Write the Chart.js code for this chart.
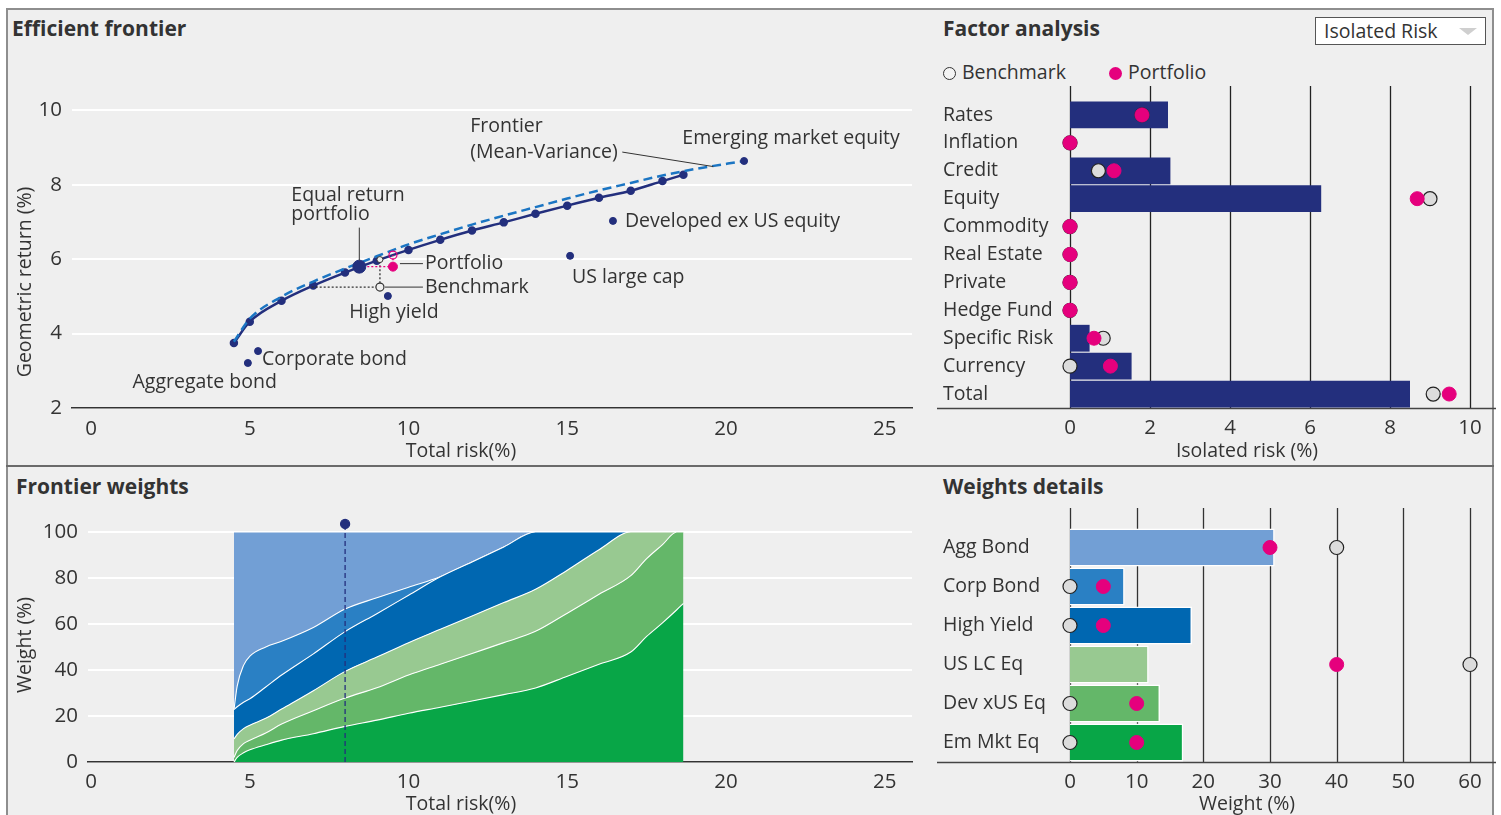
<!DOCTYPE html>
<html>
<head>
<meta charset="utf-8">
<title>Efficient frontier dashboard</title>
<script src="https://cdn.jsdelivr.net/npm/chart.js@4.4.1/dist/chart.umd.min.js"></script>
<style>
  html, body { margin: 0; padding: 0; background: #fff; }
  body { position: relative; width: 1501px; height: 815px; overflow: hidden; font-family: "Open Sans", sans-serif; color: #333; }
  #frame { position: absolute; left: 6px; top: 8px; width: 1488px; height: 820px; box-sizing: border-box; background: #efefef; border: 2px solid #8e8e8e; border-bottom: 0; }
  #divider { position: absolute; left: 6px; top: 465px; width: 1488px; height: 2px; background: #6a6a6a; }
  canvas { position: absolute; }
  .ttl { position: absolute; font-weight: 700; font-size: 21px; line-height: 24px; white-space: nowrap; }
  .axt { position: absolute; font-size: 19.5px; line-height: 24px; white-space: nowrap; transform: translate(-50%, -50%); }
  .axt.rot { transform: translate(-50%, -50%) rotate(-90deg); }
  #dropdown { position: absolute; left: 1315px; top: 17px; width: 171px; height: 28px; box-sizing: border-box; border: 1px solid #555; background: #fff; font-size: 19.5px; line-height: 26px; padding-left: 8px; }
  #dropdown:after { content: ""; position: absolute; right: 8px; top: 10px; border-left: 9px solid transparent; border-right: 9px solid transparent; border-top: 7px solid #cfcfcf; }
  .lg { position: absolute; top: 60px; font-size: 19.5px; line-height: 24px; white-space: nowrap; }
  .lg i { display: inline-block; width: 13px; height: 13px; border-radius: 50%; box-sizing: border-box; vertical-align: -1px; margin-right: 6px; }
</style>
</head>
<body>
<div id="frame"></div>
<div id="divider"></div>

<div class="ttl" style="left:12px; top:16px;">Efficient frontier</div>
<div class="ttl" style="left:943px; top:16px;">Factor analysis</div>
<div class="ttl" style="left:16px; top:474px;">Frontier weights</div>
<div class="ttl" style="left:943px; top:474px;">Weights details</div>

<div id="dropdown">Isolated Risk</div>
<div class="lg" style="left:943px;"><i style="border:1.5px solid #333; background:#f4f4f4;"></i>Benchmark</div>
<div class="lg" style="left:1109px;"><i style="background:#e5007d;"></i>Portfolio</div>

<canvas id="frontier" width="930" height="466" style="left:0; top:0;"></canvas>
<canvas id="factors" width="571" height="466" style="left:930px; top:0;"></canvas>
<canvas id="weights" width="930" height="349" style="left:0; top:466px;"></canvas>
<canvas id="details" width="571" height="349" style="left:930px; top:466px;"></canvas>

<div class="axt rot" style="left:24px; top:282px;">Geometric return (%)</div>
<div class="axt" style="left:461px; top:450px;">Total risk(%)</div>
<div class="axt" style="left:1247px; top:450px;">Isolated risk (%)</div>
<div class="axt rot" style="left:24px; top:645px;">Weight (%)</div>
<div class="axt" style="left:461px; top:803px;">Total risk(%)</div>
<div class="axt" style="left:1247px; top:803px;">Weight (%)</div>

<script>
// ---------- data ----------
const riskTicks = [0, 5, 10, 15, 20, 25];
const returnTicks = [2, 4, 6, 8, 10];

// efficient frontier (solid)
const frontierRisk   = [4.5, 5.0, 6.0, 7.0, 8.0, 9.0, 10.0, 11.0, 12.0, 13.0, 14.0, 15.0, 16.0, 17.0, 18.0, 18.66];
const frontierReturn = [3.75, 4.32, 4.88, 5.29, 5.64, 5.96, 6.25, 6.52, 6.77, 6.99, 7.22, 7.44, 7.65, 7.84, 8.10, 8.27];

// mean-variance frontier (dashed)
const mvRisk   = [4.5, 5.0, 6.0, 7.0, 8.0, 9.0, 10.0, 11.0, 12.0, 13.0, 14.0, 15.0, 16.0, 17.0, 18.0, 19.0, 20.57];
const mvReturn = [3.78, 4.40, 4.99, 5.40, 5.75, 6.08, 6.40, 6.67, 6.93, 7.17, 7.40, 7.63, 7.85, 8.05, 8.25, 8.42, 8.64];
const mvLabelAnchor = [19.6, 8.49];

// single assets
const assetNames  = ['Aggregate bond', 'Corporate bond', 'High yield', 'US large cap', 'Developed ex US equity', 'Emerging market equity'];
const assetRisk   = [4.94, 5.26, 9.35, 15.09, 16.44, 20.57];
const assetReturn = [3.21, 3.53, 5.01, 6.09, 7.03, 8.64];

const equalReturnPortfolio = [8.45, 5.80];
const portfolioPoint       = [9.51, 5.80];
const portfolioOnFrontier  = [9.51, 6.11];
const benchmarkPoint       = [9.10, 5.25];
const benchmarkOnFrontier  = [9.10, 5.99];
const benchmarkEqualReturnRisk = 6.95;

// factor analysis
const factorNames = ['Rates', 'Inflation', 'Credit', 'Equity', 'Commodity', 'Real Estate', 'Private', 'Hedge Fund', 'Specific Risk', 'Currency', 'Total'];
const factorIsolatedRisk = [2.45, 0, 2.51, 6.28, 0, 0, 0, 0, 0.49, 1.54, 8.5];
const factorPortfolio    = [1.8, 0, 1.1, 8.68, 0, 0, 0, 0, 0.6, 1.01, 9.48];
const factorBenchmark    = [1.8, 0, 0.71, 9.0, 0, 0, 0, 0, 0.83, 0, 9.08];
const isolatedTicks = [0, 2, 4, 6, 8, 10];

// frontier weights (stacked, bottom to top)
const weightRisk = [4.5, 4.6, 4.8, 5, 5.5, 6, 7, 8, 9, 10, 11, 12, 13, 14, 15, 16, 17, 17.5, 18, 18.45, 18.66];
const wEmMkt     = [0, 2, 4, 5.3, 7.5, 9.5, 12.3, 15.5, 18.2, 21.2, 23.8, 26.5, 29.3, 32.2, 37.3, 42.5, 47.8, 54.6, 60.5, 66.2, 69];
const wDevXus    = [2, 3, 4, 4.2, 5.1, 7, 10, 12.3, 14.1, 16.6, 18.7, 20.7, 22.6, 24.6, 27.4, 30.4, 33.2, 33.8, 34, 33.8, 31];
const wUsLc      = [8, 7, 6.5, 6.5, 6.4, 6.5, 8.7, 11.6, 13.3, 14.1, 15.2, 16.3, 17.4, 18.3, 18.7, 19.4, 19, 11.6, 5.5, 0, 0];
const wHighYield = [12.8, 12, 11.5, 11.5, 13.6, 14.8, 16, 17.3, 18.9, 20.6, 22.8, 23.5, 24.2, 24.9, 16.6, 7.7, 0, 0, 0, 0, 0];
const wCorpBond  = [0, 9, 16, 18.5, 17.4, 14.7, 11.5, 9.8, 6.9, 3.5, 0, 0, 0, 0, 0, 0, 0, 0, 0, 0, 0];
const wAggBond   = [77.2, 67, 58, 54, 50, 47.5, 41.5, 33.5, 28.6, 24, 19.5, 13, 6.5, 0, 0, 0, 0, 0, 0, 0, 0];
const weightTicks = [0, 20, 40, 60, 80, 100];
const selectedRisk = 8.0;
const selectedMarker = 103.5;

// weights details
const assetShort       = ['Agg Bond', 'Corp Bond', 'High Yield', 'US LC Eq', 'Dev xUS Eq', 'Em Mkt Eq'];
const selectedWeights  = [30.7, 8.2, 18.3, 11.8, 13.5, 17.0];
const portfolioWeights = [30, 5, 5, 40, 10, 10];
const benchmarkWeights = [40, 0, 0, 60, 0, 0];
const detailTicks = [0, 10, 20, 30, 40, 50, 60];

// ---------- styles ----------
const TXT = '#333';
const NAVY = '#232f7d';
const MVBLUE = '#1b75c3';
const PINK = '#e5007d';
const BENCH = '#dcdcdc';
const assetColors = ['#729fd5', '#2a80c4', '#0067b1', '#98c991', '#64b769', '#08a647'];
const NUM_FONT = { size: 20.5 };

Chart.defaults.font.family = '"Open Sans", sans-serif';
Chart.defaults.font.size = 19.5;
Chart.defaults.color = TXT;

const pts = (xs, ys) => xs.map((x, i) => ({ x: x, y: ys[i] }));
const fixedTicks = values => scale => { scale.ticks = values.map(v => ({ value: v })); };
const noPlugins = { legend: { display: false }, tooltip: { enabled: false } };

// vertical grid lines that run above the category area + full-width base line
const vGrid = {
  id: 'vgrid',
  beforeDatasetsDraw(chart, args, opts) {
    const { ctx, chartArea } = chart;
    const xs = chart.scales.x;
    ctx.save();
    ctx.strokeStyle = opts.color;
    ctx.lineWidth = opts.width;
    xs.ticks.forEach(t => {
      const px = Math.round(xs.getPixelForValue(t.value)) + 0.5;
      ctx.beginPath(); ctx.moveTo(px, opts.top); ctx.lineTo(px, chartArea.bottom); ctx.stroke();
    });
    ctx.strokeStyle = '#444';
    ctx.lineWidth = 1.5;
    ctx.beginPath(); ctx.moveTo(opts.from, chartArea.bottom + 0.5); ctx.lineTo(opts.to, chartArea.bottom + 0.5); ctx.stroke();
    ctx.restore();
  }
};

// labels and leader lines of the frontier panel
const assetLabelOffsets = [[29, 19, 'right'], [4, 8, 'left'], [6, 16, 'center'], [2, 22, 'left'], [12, 1, 'left'], [47, -23, 'center']];
const frontierNotes = {
  id: 'frontierNotes',
  afterDatasetsDraw(chart) {
    const { ctx } = chart;
    const sx = chart.scales.x, sy = chart.scales.y;
    const at = p => [sx.getPixelForValue(p[0]), sy.getPixelForValue(p[1])];
    const line = (x1, y1, x2, y2) => { ctx.beginPath(); ctx.moveTo(x1, y1); ctx.lineTo(x2, y2); ctx.stroke(); };
    const text = (s, x, y, align) => { ctx.textAlign = align || 'left'; ctx.fillText(s, x, y); };
    ctx.save();
    ctx.font = '19.5px "Open Sans", sans-serif';
    ctx.fillStyle = TXT;
    ctx.strokeStyle = TXT;
    ctx.lineWidth = 1;
    ctx.textBaseline = 'middle';

    assetNames.forEach((name, i) => {
      const [px, py] = at([assetRisk[i], assetReturn[i]]);
      const o = assetLabelOffsets[i];
      text(name, px + o[0], py + o[1], o[2]);
    });

    let [px, py] = at(equalReturnPortfolio);
    line(px, py - 39, px, py - 6);
    text('Equal return', px - 68, py - 71);
    text('portfolio', px - 68, py - 52);

    [px, py] = at(portfolioPoint);
    line(px + 7, py - 3, px + 30, py - 3);
    text('Portfolio', px + 32, py - 3.5);

    [px, py] = at(benchmarkPoint);
    line(px + 5, py, px + 43, py);
    text('Benchmark', px + 45, py);

    [px, py] = at(mvLabelAnchor);
    line(px - 91, py - 14.5, px, py);
    text('Frontier', px - 243, py - 40);
    text('(Mean-Variance)', px - 243, py - 14.5);
    ctx.restore();
  }
};

// ---------- efficient frontier ----------
new Chart(document.getElementById('frontier'), {
  type: 'line',
  data: {
    datasets: [
      { data: pts([portfolioPoint[0]], [portfolioPoint[1]]), pointRadius: 4.5, pointBackgroundColor: PINK, pointBorderColor: PINK },
      { data: pts([portfolioOnFrontier[0]], [portfolioOnFrontier[1]]), pointRadius: 4, pointBackgroundColor: 'rgba(0,0,0,0)', pointBorderColor: PINK, pointBorderWidth: 1.2 },
      { data: pts([benchmarkPoint[0]], [benchmarkPoint[1]]), pointRadius: 4, pointBackgroundColor: '#efefef', pointBorderColor: '#333', pointBorderWidth: 1.2 },
      { data: pts([benchmarkOnFrontier[0]], [benchmarkOnFrontier[1]]), pointRadius: 3, pointBackgroundColor: '#efefef', pointBorderColor: '#333', pointBorderWidth: 1 },
      { data: pts([equalReturnPortfolio[0]], [equalReturnPortfolio[1]]), pointRadius: 6.5, pointBackgroundColor: NAVY, pointBorderColor: NAVY },
      { data: pts([equalReturnPortfolio[0], portfolioPoint[0], portfolioOnFrontier[0]], [portfolioPoint[1], portfolioPoint[1], portfolioOnFrontier[1]]),
        borderColor: PINK, borderWidth: 1.3, borderDash: [2, 2], pointRadius: 0 },
      { data: pts([benchmarkEqualReturnRisk, benchmarkPoint[0], benchmarkOnFrontier[0]], [benchmarkPoint[1], benchmarkPoint[1], benchmarkOnFrontier[1]]),
        borderColor: '#333', borderWidth: 1.3, borderDash: [2, 2], pointRadius: 0 },
      { data: pts(assetRisk, assetReturn), showLine: false, pointRadius: 3.5, pointBackgroundColor: NAVY, pointBorderColor: NAVY },
      { data: pts(mvRisk, mvReturn), borderColor: MVBLUE, borderWidth: 2.5, borderDash: [9, 5], pointRadius: 0, cubicInterpolationMode: 'monotone' },
      { data: pts(frontierRisk, frontierReturn), borderColor: NAVY, borderWidth: 2.5, pointRadius: 3, pointBackgroundColor: NAVY, pointBorderColor: NAVY, cubicInterpolationMode: 'monotone' }
    ]
  },
  options: {
    responsive: false,
    animation: false,
    layout: { padding: { left: 0, top: 54.6, right: 18, bottom: 0 } },
    plugins: noPlugins,
    scales: {
      x: {
        type: 'linear', min: -0.6, max: 25.86,
        afterBuildTicks: fixedTicks(riskTicks),
        afterFit: s => { s.height = 58; },
        grid: { display: false },
        border: { color: '#333', width: 1.5 },
        ticks: { padding: 1, color: TXT, font: NUM_FONT }
      },
      y: {
        type: 'linear', min: 2, max: 11.5,
        afterBuildTicks: fixedTicks(returnTicks),
        afterFit: s => { s.width = 72; },
        grid: { color: '#fff', lineWidth: 2, drawTicks: false },
        border: { display: false },
        ticks: { padding: 10, color: TXT, font: NUM_FONT }
      }
    }
  },
  plugins: [frontierNotes]
});

// ---------- factor analysis ----------
new Chart(document.getElementById('factors'), {
  type: 'bar',
  data: {
    labels: factorNames,
    datasets: [
      { type: 'line', indexAxis: 'y', data: factorPortfolio, showLine: false, clip: false, pointRadius: 7, pointBackgroundColor: PINK, pointBorderColor: PINK, pointBorderWidth: 1, order: 0 },
      { type: 'line', indexAxis: 'y', data: factorBenchmark, showLine: false, clip: false, pointRadius: 7, pointBackgroundColor: BENCH, pointBorderColor: '#222', pointBorderWidth: 1.2, order: 1 },
      { data: factorIsolatedRisk, backgroundColor: NAVY, barPercentage: 1, categoryPercentage: 0.96, order: 2 }
    ]
  },
  options: {
    indexAxis: 'y',
    responsive: false,
    animation: false,
    layout: { padding: { left: 13, top: 101, right: 11, bottom: 0 } },
    plugins: Object.assign({ vgrid: { top: 86, from: 7, to: 566, color: '#222', width: 1.3 } }, noPlugins),
    scales: {
      x: {
        type: 'linear', min: 0, max: 10.5,
        afterBuildTicks: fixedTicks(isolatedTicks),
        afterFit: s => { s.height = 58; },
        grid: { display: false },
        border: { display: false },
        ticks: { padding: 0, color: TXT, font: NUM_FONT }
      },
      y: {
        afterFit: s => { s.width = 127; },
        grid: { display: false },
        border: { display: false },
        ticks: { crossAlign: 'far', padding: 0, color: TXT, autoSkip: false }
      }
    }
  },
  plugins: [vGrid]
});

// ---------- frontier weights ----------
const stackSeries = [wEmMkt, wDevXus, wUsLc, wHighYield, wCorpBond, wAggBond];
const stackColors = [assetColors[5], assetColors[4], assetColors[3], assetColors[2], assetColors[1], assetColors[0]];
const weightSets = stackSeries.map((w, i) => ({
  data: pts(weightRisk, w),
  backgroundColor: stackColors[i],
  borderColor: '#fff',
  borderWidth: 1.1,
  fill: i === 0 ? 'origin' : '-1',
  pointRadius: 0,
  cubicInterpolationMode: 'monotone',
  order: 5
}));
weightSets.push({
  data: pts([selectedRisk, selectedRisk], [0, selectedMarker]),
  yAxisID: 'ySel',
  borderColor: NAVY, borderWidth: 1.3, borderDash: [5, 3],
  pointRadius: [0, 4.5], pointBackgroundColor: NAVY, pointBorderColor: NAVY,
  clip: false, order: 0
});

new Chart(document.getElementById('weights'), {
  type: 'line',
  data: { datasets: weightSets },
  options: {
    responsive: false,
    animation: false,
    layout: { padding: { left: 0, top: 38.4, right: 18, bottom: 0 } },
    plugins: noPlugins,
    scales: {
      x: {
        type: 'linear', min: -0.1, max: 25.86,
        afterBuildTicks: fixedTicks(riskTicks),
        afterFit: s => { s.height = 53; },
        grid: { display: false },
        border: { color: '#333', width: 1.5 },
        ticks: { padding: 0, color: TXT, font: NUM_FONT }
      },
      y: {
        type: 'linear', min: 0, max: 112, stacked: true,
        afterBuildTicks: fixedTicks(weightTicks),
        afterFit: s => { s.width = 88; },
        grid: { color: '#fff', lineWidth: 2, drawTicks: false },
        border: { display: false },
        ticks: { padding: 10, color: TXT, font: NUM_FONT }
      },
      ySel: { type: 'linear', min: 0, max: 112, display: false }
    }
  }
});

// ---------- weights details ----------
new Chart(document.getElementById('details'), {
  type: 'bar',
  data: {
    labels: assetShort,
    datasets: [
      { type: 'line', indexAxis: 'y', data: portfolioWeights, showLine: false, clip: false, pointRadius: 7, pointBackgroundColor: PINK, pointBorderColor: PINK, pointBorderWidth: 1, order: 0 },
      { type: 'line', indexAxis: 'y', data: benchmarkWeights, showLine: false, clip: false, pointRadius: 7, pointBackgroundColor: BENCH, pointBorderColor: '#222', pointBorderWidth: 1.2, order: 1 },
      { data: selectedWeights, backgroundColor: assetColors, borderColor: '#fff', borderWidth: 1.5, barPercentage: 1, categoryPercentage: 0.98, order: 2 }
    ]
  },
  options: {
    indexAxis: 'y',
    responsive: false,
    animation: false,
    layout: { padding: { left: 13, top: 62, right: 11, bottom: 0 } },
    plugins: Object.assign({ vgrid: { top: 42, from: 7, to: 566, color: '#333', width: 1.3 } }, noPlugins),
    scales: {
      x: {
        type: 'linear', min: 0, max: 63,
        afterBuildTicks: fixedTicks(detailTicks),
        afterFit: s => { s.height = 53; },
        grid: { display: false },
        border: { display: false },
        ticks: { padding: 0, color: TXT, font: NUM_FONT }
      },
      y: {
        afterFit: s => { s.width = 127; },
        grid: { display: false },
        border: { display: false },
        ticks: { crossAlign: 'far', padding: 0, color: TXT, autoSkip: false }
      }
    }
  },
  plugins: [vGrid]
});
</script>
</body>
</html>
